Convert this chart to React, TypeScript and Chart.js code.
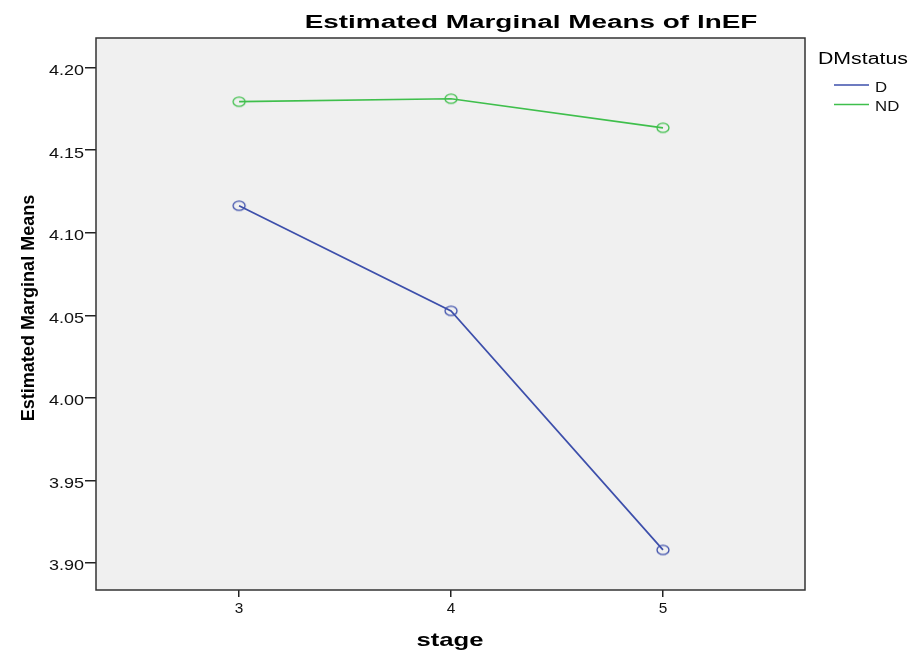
import React, { useEffect, useRef } from "react";
import { Chart, registerables } from "chart.js";

Chart.register(...registerables);

const stages = [3, 4, 5];
const dValues = [4.1164, 4.0527, 3.9079];
const ndValues = [4.1794, 4.1812, 4.1636];
const yTicks = [3.9, 3.95, 4.0, 4.05, 4.1, 4.15, 4.2];
const seriesNames = ["D", "ND"];
const colors = ["#3d4fab", "#3fbf4c"];

const FONT = "'Liberation Sans', Arial, sans-serif";

function stretchText(ctx: any, text: string, x: number, y: number, font: string, sx: number, align: string) {
  ctx.save();
  ctx.font = font;
  ctx.textAlign = align;
  ctx.textBaseline = "alphabetic";
  ctx.translate(x, y);
  ctx.scale(sx, 1);
  ctx.fillText(text, 0, 0);
  ctx.restore();
}

function ellipseMarker(color: string) {
  const c = document.createElement("canvas");
  c.width = 16;
  c.height = 13;
  const g = c.getContext("2d")!;
  g.strokeStyle = color;
  g.lineWidth = 1.3;
  g.beginPath();
  g.ellipse(8, 6.5, 6, 4.7, 0, 0, Math.PI * 2);
  g.stroke();
  return c;
}

const decorPlugin = {
  id: "decor",
  beforeDraw(chart: any) {
    const { ctx, chartArea } = chart;
    ctx.save();
    ctx.fillStyle = "#f0f0f0";
    ctx.fillRect(chartArea.left, chartArea.top, chartArea.right - chartArea.left, chartArea.bottom - chartArea.top);
    ctx.restore();
  },
  afterDraw(chart: any) {
    const { ctx, chartArea, scales } = chart;
    ctx.save();
    ctx.strokeStyle = "#333";
    ctx.lineWidth = 1.5;
    ctx.strokeRect(chartArea.left, chartArea.top, chartArea.right - chartArea.left, chartArea.bottom - chartArea.top);
    ctx.fillStyle = "#111";
    // tick labels
    yTicks.forEach((v) => {
      const py = scales.y.getPixelForValue(v);
      stretchText(ctx, v.toFixed(2), 84, py + 7.5, `15px ${FONT}`, 1.2, "right");
    });
    stages.forEach((v) => {
      const px = scales.x.getPixelForValue(v);
      stretchText(ctx, String(v), px, 613, `14px ${FONT}`, 1.1, "center");
    });
    ctx.fillStyle = "#000";
    stretchText(ctx, "Estimated Marginal Means of lnEF", 531, 28, `bold 18px ${FONT}`, 1.55, "center");
    stretchText(ctx, "stage", 450, 646, `bold 19px ${FONT}`, 1.35, "center");
    ctx.save();
    ctx.translate(34, 308);
    ctx.rotate(-Math.PI / 2);
    ctx.font = `bold 19px ${FONT}`;
    ctx.textAlign = "center";
    ctx.textBaseline = "alphabetic";
    ctx.scale(0.95, 1);
    ctx.fillText("Estimated Marginal Means", 0, 0);
    ctx.restore();
    stretchText(ctx, "DMstatus", 818, 64, `16px ${FONT}`, 1.33, "left");
    seriesNames.forEach((n, i) => {
      const y = 85 + i * 19.5;
      ctx.strokeStyle = colors[i];
      ctx.lineWidth = 1.6;
      ctx.beginPath();
      ctx.moveTo(834, y);
      ctx.lineTo(869, y);
      ctx.stroke();
      ctx.fillStyle = "#111";
      stretchText(ctx, n, 875, y + 6.5, `14px ${FONT}`, 1.2, "left");
    });
    ctx.restore();
  },
};

export default function App() {
  const ref = useRef<HTMLCanvasElement>(null);
  useEffect(() => {
    const makeData = (vals: number[]) => stages.map((s, i) => ({ x: s, y: vals[i] }));
    const mk = (i: number, vals: number[]) => ({
      label: seriesNames[i],
      data: makeData(vals),
      borderColor: colors[i],
      backgroundColor: "transparent",
      borderWidth: 1.7,
      pointStyle: ellipseMarker(colors[i]),
      pointRadius: 6,
      pointBackgroundColor: "transparent",
      pointBorderColor: colors[i],
    });
    const chart = new Chart(ref.current!, {
      type: "line",
      data: { datasets: [mk(0, dValues), mk(1, ndValues)] },
      options: {
        animation: false,
        responsive: false,
        layout: { padding: { left: 36, right: 114, top: 38, bottom: 31 } },
        plugins: { legend: { display: false }, tooltip: { enabled: false }, title: { display: false } },
        scales: {
          x: {
            type: "linear",
            min: 2.325,
            max: 5.67,
            afterBuildTicks: (s: any) => {
              s.ticks = stages.map((v) => ({ value: v }));
            },
            afterFit: (s: any) => {
              s.height = 30;
            },
            grid: { drawOnChartArea: false, tickLength: 7, color: "#222", tickColor: "#222", lineWidth: 1.5 },
            border: { display: false },
            ticks: { display: true, color: "transparent", font: { family: FONT, size: 1 }, padding: 0, maxRotation: 0 },
          },
          y: {
            type: "linear",
            min: 3.8836,
            max: 4.218,
            afterBuildTicks: (s: any) => {
              s.ticks = yTicks.map((v) => ({ value: v }));
            },
            afterFit: (s: any) => {
              s.width = 60;
            },
            grid: { drawOnChartArea: false, tickLength: 11, color: "#222", tickColor: "#222", lineWidth: 1.5 },
            border: { display: false },
            ticks: { display: true, color: "transparent", font: { family: FONT, size: 1 }, padding: 0 },
          },
        },
      },
      plugins: [decorPlugin],
    });
    return () => chart.destroy();
  }, []);
  return (
    <div style={{ position: "fixed", left: 0, top: 0, width: 919, height: 651, background: "#fff" }}>
      <canvas ref={ref} width={919} height={651} style={{ display: "block" }} />
    </div>
  );
}
